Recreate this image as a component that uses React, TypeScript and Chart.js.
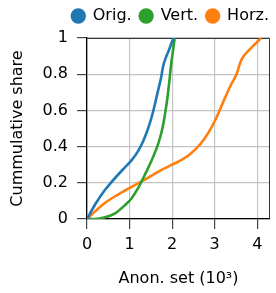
import React, { useEffect, useRef } from "react";
import { Chart, registerables } from "chart.js";

Chart.register(...registerables);

const seriesNames = ["Orig.", "Vert.", "Horz."];
const seriesColors = ["#1f77b4", "#2ca02c", "#ff7f0e"];

const origX = [0, 0.19, 0.42, 0.56, 0.75, 0.89, 1.05, 1.2, 1.33, 1.45, 1.55, 1.65, 1.74, 1.79, 1.85, 1.92, 2.03];
const origY = [0, 0.08, 0.16, 0.2, 0.25, 0.285, 0.325, 0.375, 0.435, 0.51, 0.59, 0.69, 0.78, 0.845, 0.89, 0.93, 1.0];

const vertX = [0, 0.19, 0.42, 0.66, 0.89, 1.05, 1.2, 1.35, 1.52, 1.68, 1.78, 1.84, 1.89, 1.93, 1.97, 2.02, 2.06];
const vertY = [0, 0.0, 0.009, 0.031, 0.076, 0.115, 0.17, 0.24, 0.325, 0.42, 0.51, 0.59, 0.67, 0.75, 0.84, 0.93, 1.0];

const horzX = [0, 0.19, 0.42, 0.73, 1.05, 1.36, 1.72, 1.95, 2.19, 2.42, 2.66, 2.85, 3.0, 3.17, 3.36, 3.52, 3.58, 3.64, 3.8, 3.95, 4.09];
const horzY = [0, 0.042, 0.088, 0.135, 0.178, 0.218, 0.267, 0.295, 0.322, 0.358, 0.413, 0.476, 0.54, 0.63, 0.731, 0.804, 0.849, 0.885, 0.931, 0.967, 1.0];

const yTickValues = [0, 0.2, 0.4, 0.6, 0.8, 1];
const yTickLabels = ["0", "0.2", "0.4", "0.6", "0.8", "1"];
const xTickValues = [0, 1, 2, 3, 4];
const xTickLabels = ["0", "1", "2", "3", "4"];
const xMax = 4.3;

const FONT = "'DejaVu Sans', sans-serif";

const framePlugin = {
  id: "frame",
  beforeLayout(chart: any) {
    const lg = chart.legend;
    if (lg && !lg.__patched) {
      const orig = lg.fit.bind(lg);
      lg.fit = function () {
        orig();
        this.height += 4;
      };
      lg.__patched = true;
    }
  },
  afterLayout(chart: any) {
    const lg = chart.legend;
    if (lg) {
      lg.left += 7;
      lg.right += 7;
    }
  },
  beforeDatasetsDraw(chart: any) {
    const { ctx, chartArea } = chart;
    ctx.save();
    ctx.strokeStyle = "#333333";
    ctx.lineWidth = 1;
    ctx.beginPath();
    ctx.moveTo(chartArea.left, chartArea.top + 0.5);
    ctx.lineTo(chartArea.right - 0.5, chartArea.top + 0.5);
    ctx.lineTo(chartArea.right - 0.5, chartArea.bottom);
    ctx.stroke();
    ctx.restore();
  },
};

function pts(xs: number[], ys: number[]) {
  return xs.map((x, i) => ({ x, y: ys[i] }));
}

export default function App() {
  const ref = useRef<HTMLCanvasElement>(null);
  useEffect(() => {
    const canvas = ref.current;
    if (!canvas) return;
    const data = [pts(origX, origY), pts(vertX, vertY), pts(horzX, horzY)];
    const chart = new Chart(canvas, {
      type: "line",
      data: {
        datasets: seriesNames.map((name, i) => ({
          label: name,
          data: data[i],
          borderColor: seriesColors[i],
          backgroundColor: seriesColors[i],
          borderWidth: 2.6,
          pointRadius: 0,
          cubicInterpolationMode: "monotone" as const,
          fill: false,
        })),
      },
      options: {
        responsive: false,
        animation: false,
        events: [],
        layout: { padding: { left: 0, right: 6, top: 0, bottom: 0 } },
        plugins: {
          tooltip: { enabled: false },
          legend: {
            display: true,
            position: "top",
            align: "end",
            labels: {
              usePointStyle: true,
              pointStyle: "circle",
              boxWidth: 13,
              boxHeight: 9,
              padding: 8,
              color: "#000",
              font: { family: FONT, size: 16 },
            },
          },
        },
        scales: {
          x: {
            type: "linear",
            min: 0,
            max: xMax,
            afterFit(scale: any) {
              scale.height = 74;
            },
            afterBuildTicks(scale: any) {
              scale.ticks = xTickValues.map((v) => ({ value: v }));
            },
            ticks: {
              includeBounds: false,
              autoSkip: false,
              maxRotation: 0,
              padding: 6,
              color: "#000",
              font: { family: FONT, size: 16 },
              callback: (v: any) => {
                const i = xTickValues.indexOf(Number(v));
                return i >= 0 ? xTickLabels[i] : "";
              },
            },
            grid: {
              color: "#c4c4c4",
              lineWidth: 1.2,
              tickColor: "#444",
              tickLength: 10,
            },
            border: { color: "#000", width: 1.3 },
            title: {
              display: true,
              text: "Anon. set (10³)",
              color: "#000",
              font: { family: FONT, size: 16 },
              padding: { top: 0, bottom: 5 },
            },
          },
          y: {
            type: "linear",
            min: 0,
            max: 1,
            afterFit(scale: any) {
              scale.width = 87;
            },
            afterBuildTicks(scale: any) {
              scale.ticks = yTickValues.map((v) => ({ value: v }));
            },
            ticks: {
              autoSkip: false,
              padding: 9,
              color: "#000",
              font: { family: FONT, size: 16 },
              callback: (v: any) => {
                const i = yTickValues.findIndex((t) => Math.abs(t - Number(v)) < 1e-9);
                return i >= 0 ? yTickLabels[i] : "";
              },
            },
            grid: {
              color: "#c4c4c4",
              lineWidth: 1.2,
              tickColor: "#444",
              tickLength: 10,
            },
            border: { color: "#000", width: 1.3 },
            title: {
              display: true,
              text: "Cummulative share",
              color: "#000",
              font: { family: FONT, size: 16 },
              padding: { top: 8, bottom: 0 },
            },
          },
        },
      },
      plugins: [framePlugin],
    });
    return () => chart.destroy();
  }, []);
  return (
    <div style={{ position: "fixed", left: 0, top: 0, width: 276, height: 293, background: "#fff" }}>
      <canvas ref={ref} width={276} height={293} />
    </div>
  );
}
